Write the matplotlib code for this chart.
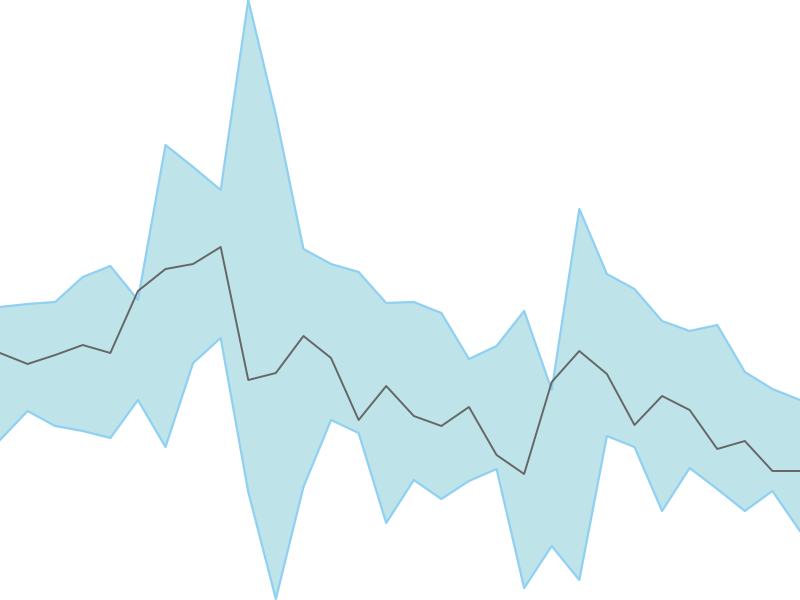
import numpy as np
import matplotlib
matplotlib.use("Agg")
import matplotlib.pyplot as plt

# band values (y grows upward, 0..600)
upper = [293, 296, 298, 323, 334, 300, 455, 433, 410, 600, 485, 351, 336, 328, 297,
         298, 287, 241, 254, 289, 210, 391, 326, 311, 279, 269, 275, 228, 211, 200]
middle = [247, 236, 245, 255, 247, 309, 331, 336, 353, 220, 227, 264, 242, 180, 214,
          184, 174, 193, 145, 126, 218, 249, 226, 175, 204, 190, 151, 159, 129, 129]
lower = [160, 189, 174, 169, 162, 200, 153, 237, 262, 108, 1, 113, 180, 167, 77,
         120, 101, 119, 131, 12, 54, 20, 164, 153, 89, 132, 111, 89, 109, 69]

x = np.arange(len(middle))

fig = plt.figure(figsize=(8, 6), dpi=100)
ax = fig.add_axes([0, 0, 1, 1])

ax.fill_between(x, lower, upper, color="#bee4e9", linewidth=0)
ax.plot(x, upper, color="#8fd0f3", linewidth=1.6, clip_on=False)
ax.plot(x, lower, color="#8fd0f3", linewidth=1.6, clip_on=False)
ax.plot(x, middle, color="#666666", linewidth=1.4)

ax.set_xlim(0, len(x) - 1)
ax.set_ylim(0, 600)
ax.axis("off")

plt.savefig("out.png", dpi=100)
